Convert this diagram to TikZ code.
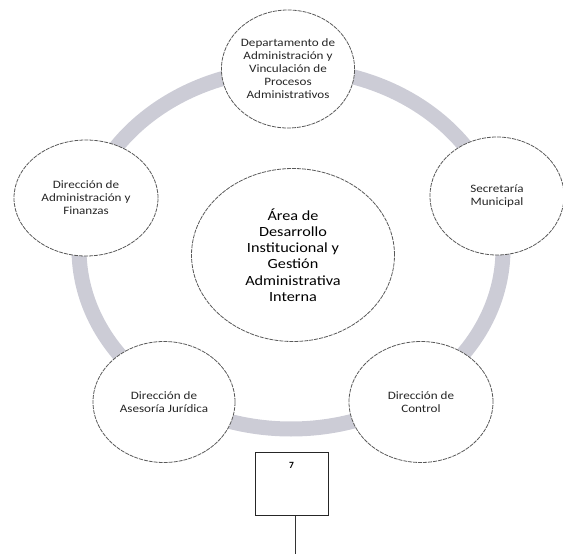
\documentclass[tikz,border=0pt]{standalone}
\usepackage{fontspec}
\setmainfont{Carlito}
\newfontfamily\widefont[FakeStretch=1.16]{Carlito}
\usetikzlibrary{calc, positioning}
\usetikzlibrary{shapes.geometric}
\definecolor{ringgray}{RGB}{204,204,214}
\tikzset{
    unit/.style={ellipse, draw=black!65, line width=0.8pt, dash pattern=on 4pt off 1pt,
      fill=white, inner sep=0pt, align=center, text=black!85,
      font=\widefont\fontsize{11.3}{13}\selectfont},
    core/.style={unit, text=black, font=\widefont\fontsize{14}{16.3}\selectfont},
    ring/.style={draw=ringgray, line width=15pt},
    numbox/.style={draw=black!85, line width=0.9pt, minimum width=73pt,
      inner ysep=10pt, text height=6pt, text depth=37pt, font=\bfseries\fontsize{9.5}{10}\selectfont}
}

\begin{document}
\begin{tikzpicture}[x=1pt, y=-1pt]
      \useasboundingbox (0,0) rectangle (563,554);
      \draw[ring] (291,249) ellipse [x radius=212, y radius=180];

      \node[unit, minimum width=126pt, minimum height=118pt] (dep) at (288,69)
        {Departamento de\\Administración y\\Vinculación de\\Procesos\\Administrativos};
      \node[unit, minimum width=144pt, minimum height=116pt] (fin) at (86,198)
        {Dirección de\\Administración y\\Finanzas};
      \node[unit, minimum width=134pt, minimum height=118pt] (sec) at (497,196)
        {Secretaría\\Municipal};
      \node[unit, minimum width=142pt, minimum height=121pt] (jur) at (164,402)
        {Dirección de\\Asesoría Jurídica};
      \node[unit, minimum width=144pt, minimum height=121pt] (ctl) at (421,402)
        {Dirección de\\Control};
      \node[core, minimum width=203pt, minimum height=173pt] (area) at (293,255)
        {Área de\\Desarrollo\\Institucional y\\Gestión\\Administrativa\\Interna};

      \node[numbox, anchor=north] (num) at (291.5,452) {7};
      \coordinate (tail) at (295,554);
      \draw[black!80, line width=0.9pt] (num.south -| tail) -- (tail);
\end{tikzpicture}
\end{document}
